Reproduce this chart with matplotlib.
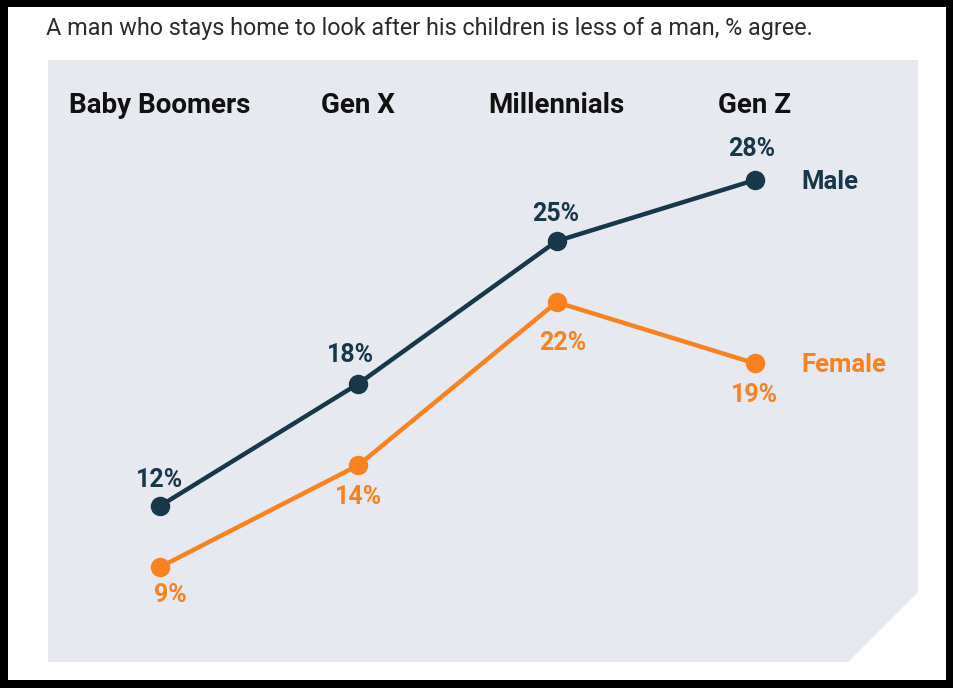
import matplotlib.pyplot as plt
from matplotlib.patches import Polygon, Rectangle

generations = ["Baby Boomers", "Gen X", "Millennials", "Gen Z"]
male = [12, 18, 25, 28]
female = [9, 14, 22, 19]

navy = "#17384a"
orange = "#f7821e"
panel = "#e6e9f0"

W, H = 954, 688
plt.rcParams["font.family"] = ["Roboto", "DejaVu Sans"]

fig = plt.figure(figsize=(W / 100, H / 100), dpi=100, facecolor="black")


def px(x, y):
    # pixel position (top-left origin) -> figure fraction
    return x / W, 1 - y / H


# white card inside the black frame
x0, y0 = px(8, 680)
x1, y1 = px(946, 7)
fig.patches.append(Rectangle((x0, y0), x1 - x0, y1 - y0, transform=fig.transFigure,
                             facecolor="white", edgecolor="none", zorder=0))

# grey panel with clipped bottom-right corner
corners = [px(48, 60), px(918, 60), px(918, 592), px(848, 662), px(48, 662)]
fig.patches.append(Polygon(corners, closed=True, transform=fig.transFigure,
                           facecolor=panel, edgecolor="none", zorder=1))

fig.text(*px(46, 28), "A man who stays home to look after his children is less of a man, % agree.",
         fontsize=16.8, color="#2b2b2b", va="center", ha="left")

ax = fig.add_axes([0, 0, 1, 1], zorder=5)
ax.set_facecolor("none")
ax.axis("off")
ax.set_xlim(-0.8067, 4.0034)
ax.set_ylim(3.067, 36.834)

xs = range(len(generations))
ax.plot(xs, male, color=navy, lw=3.2, marker="o", ms=13, zorder=3)
ax.plot(xs, female, color=orange, lw=3.2, marker="o", ms=13, zorder=3)

for i, g in enumerate(generations):
    ax.text(i, 31.65, g, ha="center", va="center", fontsize=20, fontweight="bold", color="#111111")

male_off = [(0, 26), (-8, 29), (-1, 27), (-3, 31)]
female_off = [(10, -28), (0, -32), (6, -41), (0, -32)]
for i, v in enumerate(male):
    ax.annotate(f"{v}%", (i, v), xytext=male_off[i], textcoords="offset pixels",
                ha="center", va="center", fontsize=18, fontweight="bold", color=navy)
for i, v in enumerate(female):
    ax.annotate(f"{v}%", (i, v), xytext=female_off[i], textcoords="offset pixels",
                ha="center", va="center", fontsize=18, fontweight="bold", color=orange)

ax.annotate("Male", (3, male[-1]), xytext=(46, -2), textcoords="offset pixels",
            ha="left", va="center", fontsize=18.5, fontweight="bold", color=navy)
ax.annotate("Female", (3, female[-1]), xytext=(46, -2), textcoords="offset pixels",
            ha="left", va="center", fontsize=18.5, fontweight="bold", color=orange)

fig.savefig("out.png", dpi=100, facecolor="black")
